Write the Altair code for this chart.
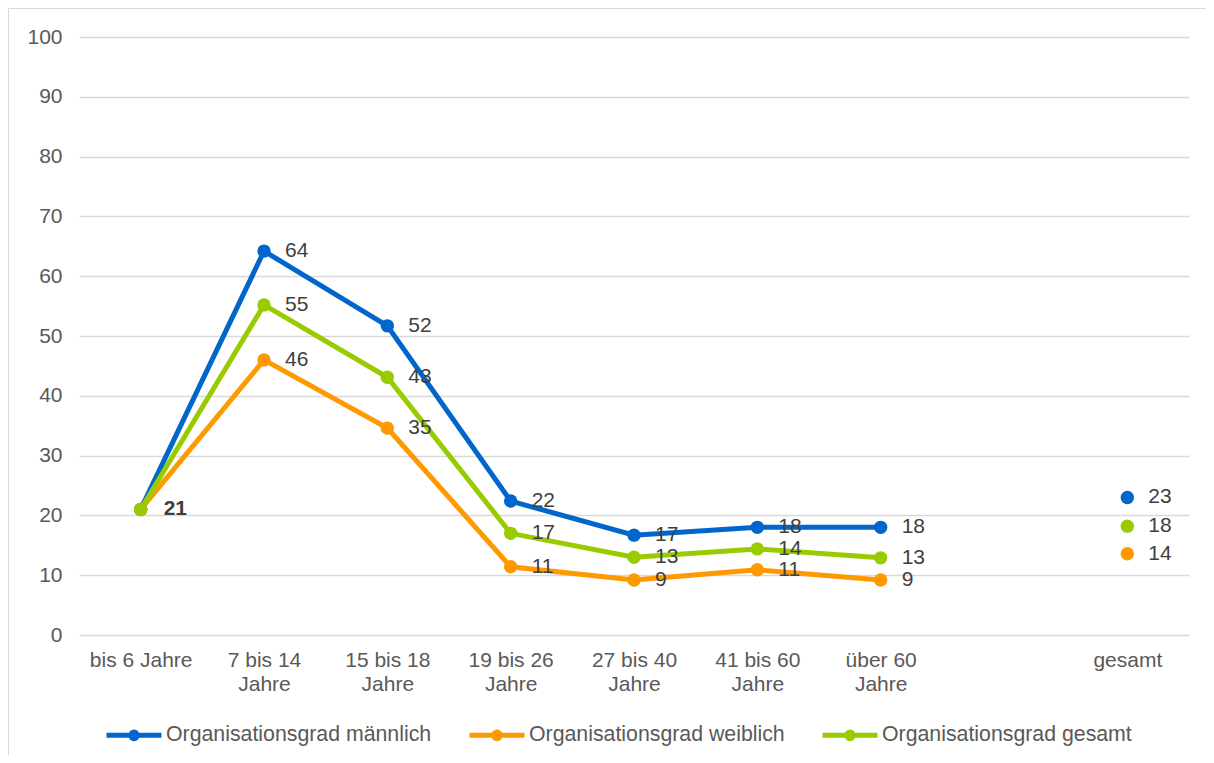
import altair as alt
import pandas as pd

categories = ["bis 6 Jahre", "7 bis 14 Jahre", "15 bis 18 Jahre", "19 bis 26 Jahre",
              "27 bis 40 Jahre", "41 bis 60 Jahre", "über 60 Jahre", " ", "gesamt"]
data_categories = ["bis 6 Jahre", "7 bis 14 Jahre", "15 bis 18 Jahre", "19 bis 26 Jahre",
                   "27 bis 40 Jahre", "41 bis 60 Jahre", "über 60 Jahre", "gesamt"]
series = ["Organisationsgrad männlich", "Organisationsgrad weiblich", "Organisationsgrad gesamt"]
colors = ["#0066CC", "#FF9900", "#99CC00"]

maennlich = [21.0, 64.2, 51.7, 22.4, 16.7, 18.0, 18.0, 23.0]
weiblich = [21.0, 46.0, 34.6, 11.4, 9.2, 10.9, 9.2, 13.6]
gesamt = [21.0, 55.2, 43.1, 17.0, 13.0, 14.4, 12.9, 18.2]

rows = []
for s, vals in zip(series, [maennlich, weiblich, gesamt]):
    for c, v in zip(data_categories, vals):
        rows.append({"cat": c, "series": s, "value": v, "label": f"{v:.0f}"})
df = pd.DataFrame(rows)

xenc = alt.X("cat:N", sort=categories,
             scale=alt.Scale(type="point", domain=categories, padding=0.5),
             axis=alt.Axis(title=None, domain=False, ticks=False, tickSize=0, grid=False,
                           labelAngle=0, labelPadding=14, labelFontSize=21,
                           labelColor="#595959", labelFont="Liberation Sans",
                           labelLineHeight=24, labelLimit=200,
                           labelExpr="datum.value == 'bis 6 Jahre' ? datum.value : split(replace(datum.value, ' Jahre', '|Jahre'), '|')"))
yenc = alt.Y("value:Q", scale=alt.Scale(domain=[0, 100], nice=False),
             axis=alt.Axis(title=None, values=list(range(0, 101, 10)), domain=False,
                           ticks=False, tickSize=0, labelPadding=17, labelFontSize=21,
                           labelColor="#595959", labelFont="Liberation Sans",
                           gridColor="#d9d9d9", gridWidth=1.5))
color = alt.Color("series:N", sort=series,
                  scale=alt.Scale(domain=series, range=colors),
                  legend=alt.Legend(title=None, orient="none", direction="horizontal",
                                    columns=3, legendX=25, legendY=668, padding=0,
                                    symbolType="M-1,0L1,0M0.12,0A0.12,0.12,0,1,1,-0.12,0A0.12,0.12,0,1,1,0.12,0Z",
                                    symbolSize=3025, symbolStrokeWidth=5,
                                    labelFontSize=21.3, labelColor="#595959",
                                    labelFont="Liberation Sans", labelOffset=2,
                                    columnPadding=27, labelLimit=400))

base = alt.Chart(df)

lines = base.transform_filter(alt.datum.cat != "gesamt").mark_line(strokeWidth=5).encode(
    x=xenc, y=yenc, color=color)
points = base.mark_circle(size=180, opacity=1).encode(x=xenc, y=yenc, color=color)
labels = base.transform_filter(alt.datum.cat != "bis 6 Jahre").mark_text(
    align="left", baseline="middle", dx=21, fontSize=21, color="#404040",
    font="Liberation Sans").encode(x=xenc, y=yenc, text="label:N")
bold_label = base.transform_filter(
    (alt.datum.cat == "bis 6 Jahre") & (alt.datum.series == "Organisationsgrad gesamt")
).mark_text(align="left", baseline="middle", dx=23, fontSize=21, color="#404040",
            fontWeight="bold", font="Liberation Sans").encode(x=xenc, y=yenc, text="label:N")

border = alt.Chart(pd.DataFrame({"a": [0]})).mark_rect(
    fill=None, stroke="#d9d9d9", strokeWidth=1).encode(
    x=alt.value(-70.5), x2=alt.value(1160), y=alt.value(-28.5), y2=alt.value(800))

chart = alt.layer(border, lines, points, labels, bold_label).properties(
    width=1110, height=598,
    padding={"left": 71, "top": 29, "right": 17, "bottom": 120},
    autosize=alt.AutoSizeParams(type="none"),
).configure(font="Liberation Sans").configure_view(stroke=None)

chart.save("out.html", embed_options={"renderer": "svg", "actions": False})
